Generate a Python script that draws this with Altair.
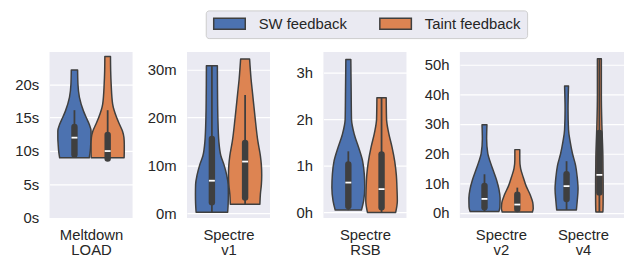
import altair as alt
import pandas as pd

HUES = ["SW feedback", "Taint feedback"]
COLORS = ["#4c72b0", "#dd8452"]

# ---- violin outlines: values and relative density (1 = widest) ----
P1_SW_VAL = [22.1, 20, 18, 16, 15, 14, 13, 12, 11, 10, 9.0]
P1_SW_DEN = [0.19, 0.21, 0.30, 0.54, 0.71, 0.89, 1.0, 1.0, 0.98, 0.95, 0.89]
P1_TA_VAL = [24.1, 22, 20, 17, 15, 14, 13, 12, 11, 10, 9.0]
P1_TA_DEN = [0.17, 0.18, 0.21, 0.30, 0.54, 0.71, 0.89, 0.98, 1.0, 1.0, 0.99]

P2_SW_VAL = [30.8, 25, 20, 15, 12, 10, 8, 6, 4, 2, 0.2]
P2_SW_DEN = [0.33, 0.34, 0.36, 0.42, 0.54, 0.74, 0.89, 0.98, 0.99, 0.98, 0.95]
P2_TA_VAL = [32.2, 28, 25, 20, 15, 12, 10, 8, 6, 4, 1.9]
P2_TA_DEN = [0.27, 0.36, 0.45, 0.60, 0.77, 0.92, 0.98, 1.0, 0.98, 0.92, 0.89]

P3_SW_VAL = [3.28, 2.6, 2.0, 1.67, 1.38, 1.1, 0.82, 0.53, 0.25, 0.05]
P3_SW_DEN = [0.15, 0.17, 0.19, 0.36, 0.63, 0.86, 0.96, 0.99, 0.92, 0.79]
P3_TA_VAL = [2.46, 2.0, 1.7, 1.4, 1.1, 0.8, 0.5, 0.25, 0.0]
P3_TA_DEN = [0.28, 0.30, 0.43, 0.63, 0.79, 0.89, 0.93, 0.95, 0.85]

P4A_SW_VAL = [29.7, 25, 20, 17, 14, 11, 8, 5, 2, 0.5]
P4A_SW_DEN = [0.15, 0.13, 0.20, 0.36, 0.55, 0.74, 0.88, 0.95, 0.94, 0.88]
P4A_TA_VAL = [21.3, 18, 15, 12, 9, 6, 3.5, 1.5, 0.3]
P4A_TA_DEN = [0.15, 0.15, 0.20, 0.36, 0.54, 0.79, 0.94, 0.97, 0.92]
P4B_SW_VAL = [42.7, 35, 28, 24, 20, 16, 12, 8, 4, 1.0]
P4B_SW_DEN = [0.12, 0.09, 0.12, 0.22, 0.36, 0.55, 0.65, 0.70, 0.65, 0.60]
P4B_TA_VAL = [51.9, 40, 30, 25, 20, 15, 10, 5, 1, 0.3]
P4B_TA_DEN = [0.12, 0.12, 0.15, 0.18, 0.21, 0.22, 0.23, 0.23, 0.22, 0.21]

# ---- box statistics: [whisker low, q1, median, q3, whisker high] ----
P1_SW_BOX = [9.0, 9.5, 12.0, 13.6, 16.1]
P1_TA_BOX = [8.6, 8.9, 10.0, 12.4, 16.1]
P2_SW_BOX = [0.2, 2.3, 6.8, 15.5, 30.8]
P2_TA_BOX = [1.9, 3.3, 10.8, 14.7, 24.7]
P3_SW_BOX = [0.05, 0.14, 0.64, 1.03, 1.31]
P3_TA_BOX = [0.0, 0.11, 0.5, 1.24, 2.46]
P4A_SW_BOX = [0.5, 1.9, 4.7, 9.1, 13.0]
P4A_TA_BOX = [0.3, 1.3, 2.8, 6.1, 8.5]
P4B_SW_BOX = [1.0, 4.7, 9.0, 13.0, 17.4]
P4B_TA_BOX = [0.3, 6.9, 12.8, 26.9, 51.9]

# ---- panel definitions ----
P1_CATS = [["Meltdown", "LOAD"]]
P2_CATS = [["Spectre", "v1"]]
P3_CATS = [["Spectre", "RSB"]]
P4_CATS = [["Spectre", "v2"], ["Spectre", "v4"]]
P1_TICKS = [0, 5, 10, 15, 20]
P2_TICKS = [0, 10, 20, 30]
P3_TICKS = [0, 1, 2, 3]
P4_TICKS = [0, 10, 20, 30, 40, 50]
P1_DOM = [0, 24.8]
P2_DOM = [-1.0, 33.7]
P3_DOM = [-0.12, 3.44]
P4_DOM = [-1.74, 54.2]

PANELS = [
    dict(cats=P1_CATS, ticks=P1_TICKS, dom=P1_DOM, unit="s", width=84,
         violins=[(0, 0, P1_SW_VAL, P1_SW_DEN, P1_SW_BOX), (0, 1, P1_TA_VAL, P1_TA_DEN, P1_TA_BOX)]),
    dict(cats=P2_CATS, ticks=P2_TICKS, dom=P2_DOM, unit="m", width=84,
         violins=[(0, 0, P2_SW_VAL, P2_SW_DEN, P2_SW_BOX), (0, 1, P2_TA_VAL, P2_TA_DEN, P2_TA_BOX)]),
    dict(cats=P3_CATS, ticks=P3_TICKS, dom=P3_DOM, unit="h", width=84,
         violins=[(0, 0, P3_SW_VAL, P3_SW_DEN, P3_SW_BOX), (0, 1, P3_TA_VAL, P3_TA_DEN, P3_TA_BOX)]),
    dict(cats=P4_CATS, ticks=P4_TICKS, dom=P4_DOM, unit="h", width=166,
         violins=[(0, 0, P4A_SW_VAL, P4A_SW_DEN, P4A_SW_BOX), (0, 1, P4A_TA_VAL, P4A_TA_DEN, P4A_TA_BOX),
                  (1, 0, P4B_SW_VAL, P4B_SW_DEN, P4B_SW_BOX), (1, 1, P4B_TA_VAL, P4B_TA_DEN, P4B_TA_BOX)]),
]

HALF = 0.2      # max half-width of one violin in category units (seaborn width 0.8, two hues)
DODGE = [-0.2, 0.2]
EDGE = "#3f3f3f"
FONT = "Liberation Sans"

color_scale = alt.Scale(domain=HUES, range=COLORS)
legend = alt.Legend(
    title=None, orient="none", legendX=158, legendY=-42, direction="horizontal",
    symbolType="M-2.9,-1H2.9V1H-2.9Z", symbolSize=121, symbolOffset=10.5, symbolStrokeColor=EDGE,
    symbolStrokeWidth=1.5, symbolOpacity=1, labelFont=FONT, labelFontSize=15,
    labelColor="#262626", labelOffset=22, columnPadding=30, padding=6,
    fillColor="#eaeaf2", strokeColor="#cccccc", cornerRadius=3,
)


def make_panel(p):
    vrows, brows = [], []
    for k, (cat, h, vals, dens, box) in enumerate(p["violins"]):
        c = cat + DODGE[h]
        for v, d in zip(vals, dens):
            vrows.append(dict(vid=k, hue=HUES[h], value=v, left=c - HALF * d, right=c + HALF * d))
        brows.append(dict(hue=HUES[h], center=c, wlo=box[0], q1=box[1], med=box[2], q3=box[3], whi=box[4]))
    vdf = pd.DataFrame(vrows)
    bdf = pd.DataFrame(brows)
    n = len(p["cats"])
    parts = [f"datum.value == {i} ? ['{a}', '{b}']" for i, (a, b) in enumerate(p["cats"][:-1])]
    last = p["cats"][-1]
    parts.append(f"['{last[0]}', '{last[1]}']")
    label_expr = " : ".join(parts)
    xs = alt.Scale(domain=[-0.5, n - 0.5], nice=False, zero=False)
    ys = alt.Scale(domain=p["dom"], nice=False, zero=False)
    xa = alt.Axis(values=list(range(n)), labelExpr=label_expr, grid=False, ticks=False, domain=False,
                  labelPadding=10, labelLineHeight=15, title=None, labelAngle=0)
    ya = alt.Axis(values=p["ticks"], labelExpr=f"datum.value + '{p['unit']}'", ticks=False, domain=False,
                  grid=True, gridColor="white", gridWidth=1.2, labelPadding=11, minExtent=40,
                  maxExtent=40, title=None)
    violin = alt.Chart(vdf).mark_area(
        orient="horizontal", interpolate="monotone", stroke=EDGE, strokeWidth=1.5,
        strokeJoin="round", opacity=1,
    ).encode(
        y=alt.Y("value:Q", scale=ys, axis=ya),
        x=alt.X("left:Q", scale=xs, axis=xa),
        x2="right:Q",
        color=alt.Color("hue:N", scale=color_scale, legend=legend),
        detail="vid:N",
    )
    whisk = alt.Chart(bdf).mark_rule(color=EDGE, strokeWidth=1.8).encode(
        x=alt.X("center:Q", scale=xs, axis=xa),
        y=alt.Y("wlo:Q", scale=ys, axis=ya), y2="whi:Q",
    )
    box = alt.Chart(bdf).mark_rule(color=EDGE, strokeWidth=6.5, strokeCap="round").encode(
        x=alt.X("center:Q", scale=xs, axis=xa),
        y=alt.Y("q1:Q", scale=ys, axis=ya), y2="q3:Q",
    )
    med = alt.Chart(bdf).mark_tick(orient="horizontal", color="white", size=6, thickness=1.8, opacity=1).encode(
        x=alt.X("center:Q", scale=xs, axis=xa),
        y=alt.Y("med:Q", scale=ys, axis=ya),
    )
    return alt.layer(violin, whisk, box, med).properties(width=p["width"], height=168)


chart = alt.hconcat(*[make_panel(p) for p in PANELS], spacing=14).resolve_scale(
    x="independent", y="independent"
).properties(
    padding={"left": 2, "top": 0, "right": 0, "bottom": 0}
).configure_view(
    fill="#eaeaf2", strokeWidth=0
).configure_axis(
    labelFont=FONT, labelFontSize=15, labelColor="#262626"
)

chart.save("out.html", embed_options={"renderer": "svg", "actions": False})
